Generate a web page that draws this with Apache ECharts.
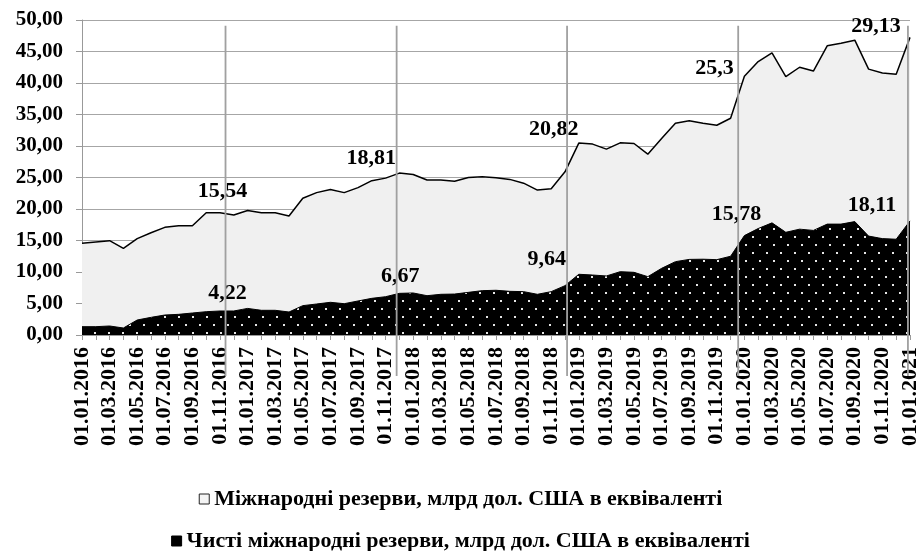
<!DOCTYPE html>
<html>
<head>
<meta charset="utf-8">
<script src="https://cdn.jsdelivr.net/npm/echarts@6.0.0/dist/echarts.min.js"></script>
<style>
  html, body { margin: 0; padding: 0; background: #fff; }
  #chart { width: 921px; height: 551px; }
</style>
</head>
<body>
<div id="chart"></div>
<script>
// місяці (підписи осі X)
const months = [
  '01.01.2016','01.02.2016','01.03.2016','01.04.2016','01.05.2016','01.06.2016',
  '01.07.2016','01.08.2016','01.09.2016','01.10.2016','01.11.2016','01.12.2016',
  '01.01.2017','01.02.2017','01.03.2017','01.04.2017','01.05.2017','01.06.2017',
  '01.07.2017','01.08.2017','01.09.2017','01.10.2017','01.11.2017','01.12.2017',
  '01.01.2018','01.02.2018','01.03.2018','01.04.2018','01.05.2018','01.06.2018',
  '01.07.2018','01.08.2018','01.09.2018','01.10.2018','01.11.2018','01.12.2018',
  '01.01.2019','01.02.2019','01.03.2019','01.04.2019','01.05.2019','01.06.2019',
  '01.07.2019','01.08.2019','01.09.2019','01.10.2019','01.11.2019','01.12.2019',
  '01.01.2020','01.02.2020','01.03.2020','01.04.2020','01.05.2020','01.06.2020',
  '01.07.2020','01.08.2020','01.09.2020','01.10.2020','01.11.2020','01.12.2020',
  '01.01.2021'
];
// чисті міжнародні резерви
const netReserves = [
  1.32, 1.32, 1.43, 1.11, 2.38, 2.80, 3.17, 3.28, 3.49, 3.70, 3.81, 3.81,
  4.22, 3.92, 3.92, 3.65, 4.66, 4.92, 5.19, 4.97, 5.40, 5.82, 6.08, 6.61,
  6.67, 6.24, 6.46, 6.50, 6.77, 7.04, 7.10, 6.93, 6.88, 6.46, 6.88, 7.83,
  9.64, 9.52, 9.37, 10.05, 9.95, 9.26, 10.58, 11.64, 12.00, 12.03, 11.96, 12.50,
  15.78, 16.90, 17.80, 16.30, 16.80, 16.60, 17.60, 17.60, 18.00, 15.70, 15.30, 15.20,
  18.11
];
// міжнародні резерви (накладаються зверху)
const grossReserves = [
  13.23, 13.44, 13.54, 12.65, 12.92, 13.44, 13.92, 14.07, 13.86, 15.70, 15.59, 15.24,
  15.54, 15.48, 15.48, 15.25, 17.04, 17.68, 17.91, 17.63, 18.00, 18.68, 18.82, 19.09,
  18.81, 18.36, 18.14, 17.90, 18.23, 18.06, 17.87, 17.77, 17.22, 16.54, 16.32, 18.07,
  20.82, 20.78, 20.13, 20.45, 20.45, 19.44, 20.62, 21.96, 22.00, 21.57, 21.34, 21.90,
  25.30, 26.50, 27.00, 24.70, 25.70, 25.30, 28.30, 28.70, 28.80, 26.50, 26.30, 26.20,
  29.13
];
const yTicks = [0, 5, 10, 15, 20, 25, 30, 35, 40, 45, 50];
const labelledIdx = [12, 24, 36, 48, 60];
const dividerAt = [10.4, 22.8, 35.15, 47.55, 59.85];

const seriesNames = [
  'Міжнародні резерви, млрд дол. США в еквіваленті',
  'Чисті міжнародні резерви, млрд дол. США в еквіваленті'
];

// зсуви підписів
const grossOffsets = [[-25, -3], [-42, 0], [-25, 2], [-30, 8], [-34, 5]];
const netOffsets = [[-20, 1], [-13, -1], [-32, 1], [-8, -5], [-38, 0]];

const font = 'Liberation Serif';
const comma = v => String(v).replace('.', ',');

function dotPattern() {
  const c = document.createElement('canvas');
  c.width = 14; c.height = 16;
  const g = c.getContext('2d');
  g.fillStyle = '#000';
  g.fillRect(0, 0, 14, 16);
  g.fillStyle = '#e6e6e6';
  g.fillRect(3, 4, 2, 2);
  g.fillRect(10, 12, 2, 2);
  return c;
}

function withLabels(values, offsets) {
  return values.map((v, i) => {
    const k = labelledIdx.indexOf(i);
    if (k < 0) return v;
    return {
      value: v,
      label: { show: true, position: 'top', offset: offsets[k], formatter: comma(v) }
    };
  });
}

const labelStyle = { fontFamily: font, fontWeight: 'bold', fontSize: 22, color: '#000' };
const legendText = { fontFamily: font, fontWeight: 'bold', fontSize: 22, color: '#000' };

let chart = echarts.init(document.getElementById('chart'));
let option = {
  animation: false,
  backgroundColor: '#fff',
  grid: { left: 82, right: 8, top: 20, bottom: 216 },
  legend: [
    {
      top: 483, left: 'center', itemWidth: 10, itemHeight: 10,
      textStyle: legendText,
      data: [{ name: seriesNames[0], icon: 'rect', itemStyle: { color: '#f4f4f4', borderColor: '#222', borderWidth: 1 } }]
    },
    {
      top: 525, left: 'center', itemWidth: 10, itemHeight: 10,
      textStyle: legendText,
      data: [{ name: seriesNames[1], icon: 'rect', itemStyle: { color: '#000', borderColor: '#000', borderWidth: 1 } }]
    }
  ],
  xAxis: {
    type: 'category',
    boundaryGap: false,
    data: months,
    axisLine: { lineStyle: { color: '#999', width: 1 } },
    axisTick: { show: true, interval: 0, length: 5, lineStyle: { color: '#999' } },
    axisLabel: {
      interval: 1, rotate: 90, margin: 12,
      fontFamily: font, fontWeight: 'bold', fontSize: 22, color: '#000'
    },
    splitLine: { show: false }
  },
  yAxis: {
    type: 'value',
    min: yTicks[0], max: yTicks[yTicks.length - 1], interval: 5,
    axisLine: { show: true, lineStyle: { color: '#999', width: 1 } },
    axisTick: { show: true, length: 6, lineStyle: { color: '#999' } },
    axisLabel: {
      margin: 19, fontFamily: font, fontWeight: 'bold', fontSize: 21, color: '#000',
      formatter: v => v.toFixed(2).replace('.', ',')
    },
    splitLine: { lineStyle: { color: '#a6a6a6', width: 1.2 } }
  },
  series: [
    {
      name: seriesNames[1],
      type: 'line',
      stack: 'total',
      z: 3,
      symbol: 'circle',
      symbolSize: 0,
      showSymbol: true,
      lineStyle: { color: '#000', width: 1 },
      itemStyle: { color: '#000' },
      areaStyle: { color: { image: dotPattern(), repeat: 'repeat' }, opacity: 1 },
      label: Object.assign({ show: false }, labelStyle),
      data: withLabels(netReserves, netOffsets)
    },
    {
      name: seriesNames[0],
      type: 'line',
      stack: 'total',
      z: 2,
      symbol: 'circle',
      symbolSize: 0,
      showSymbol: true,
      lineStyle: { color: '#000', width: 1.5 },
      itemStyle: { color: '#f0f0f0' },
      areaStyle: { color: '#f0f0f0', opacity: 1 },
      label: Object.assign({ show: false }, labelStyle),
      data: withLabels(grossReserves, grossOffsets)
    }
  ]
};
chart.setOption(option);

// вертикальні лінії-роздільники
const yTop = chart.convertToPixel({ yAxisIndex: 0 }, 49.1);
const yBottom = chart.convertToPixel({ yAxisIndex: 0 }, 0) + 41;
chart.setOption({
  graphic: dividerAt.map(v => {
    const i = Math.floor(v);
    const f = v - i;
    const x0 = chart.convertToPixel({ xAxisIndex: 0 }, i);
    const x1 = i + 1 < months.length ? chart.convertToPixel({ xAxisIndex: 0 }, i + 1) : x0;
    const x = x0 + (x1 - x0) * f;
    return {
      type: 'line', silent: true, z: 50,
      shape: { x1: x, y1: yTop, x2: x, y2: yBottom },
      style: { stroke: '#a0a0a0', lineWidth: 1.8 }
    };
  })
});
window.addEventListener('resize', function () { chart.resize(); });
</script>
</body>
</html>
